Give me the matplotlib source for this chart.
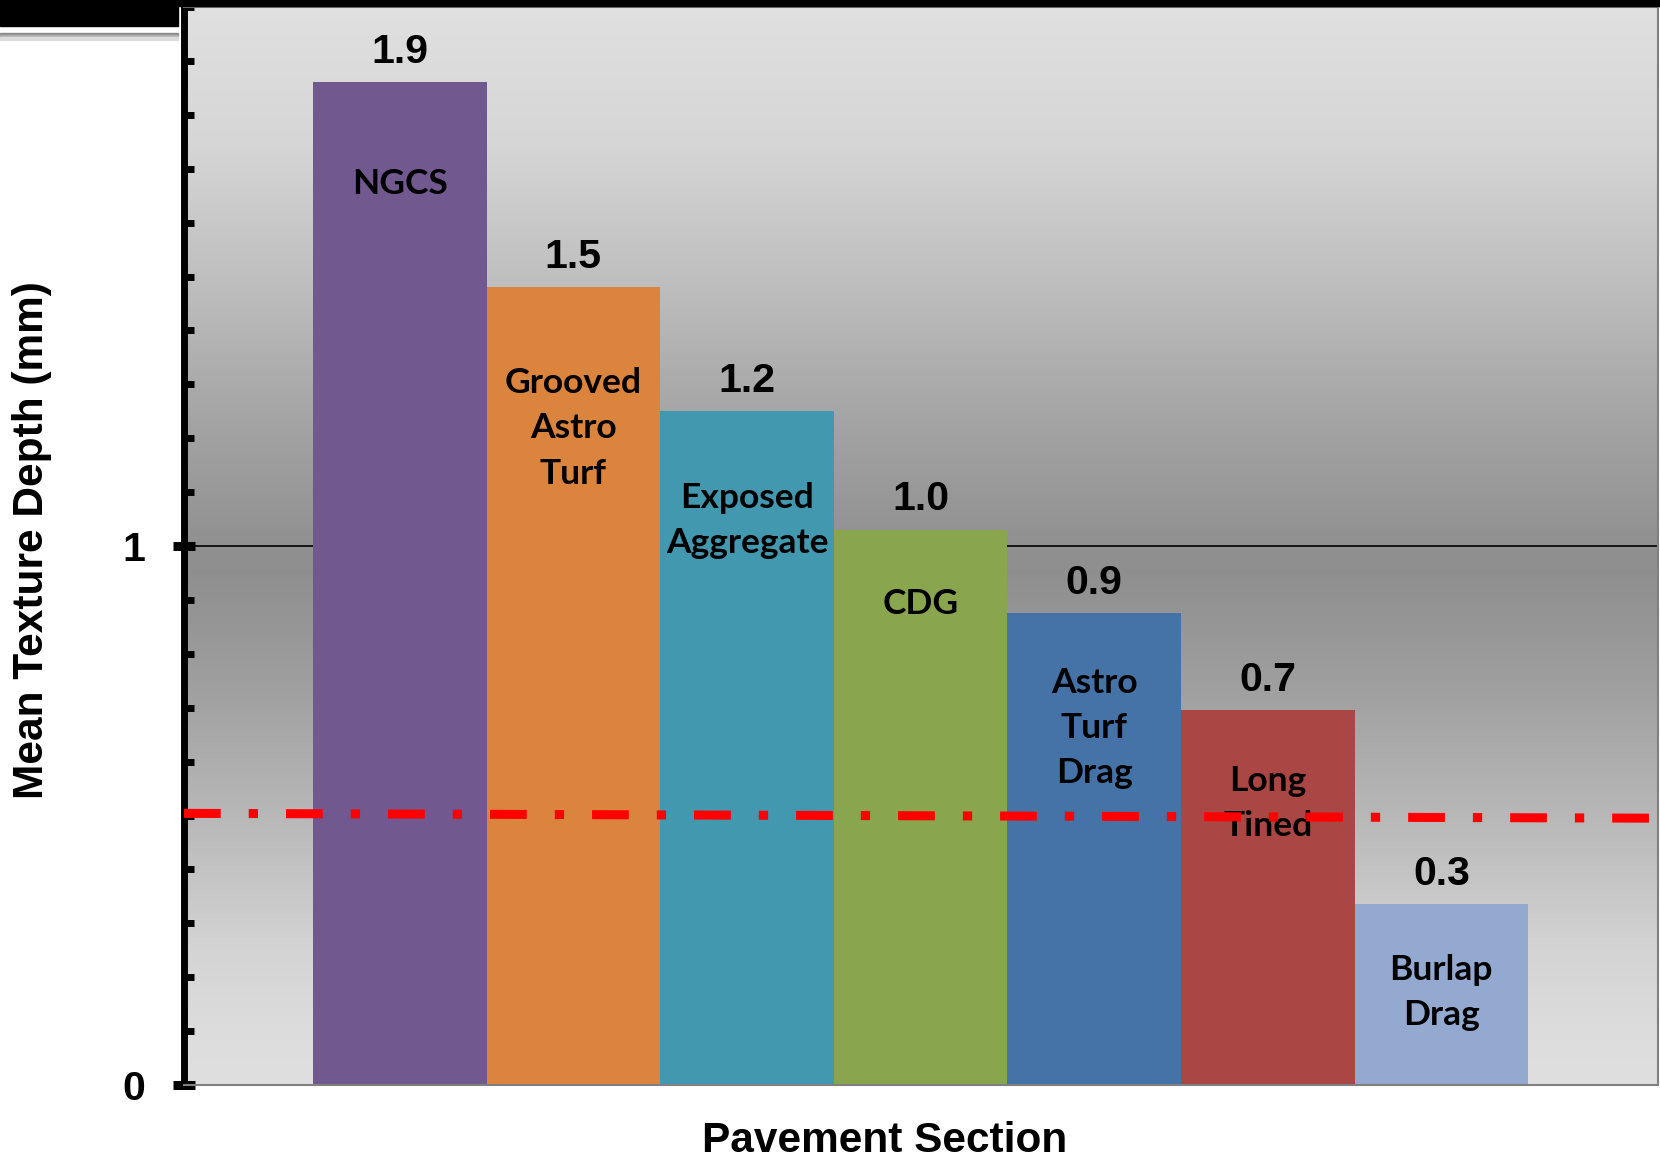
import numpy as np
import matplotlib
matplotlib.use("Agg")
import matplotlib.pyplot as plt
from matplotlib.ticker import FixedLocator, MultipleLocator
from matplotlib.patches import Rectangle

# ---------------- data ----------------
categories = ["NGCS", "Grooved\nAstro\nTurf", "Exposed\nAggregate", "CDG",
              "Astro\nTurf\nDrag", "Long\nTined", "Burlap\nDrag"]
values = [1.86, 1.48, 1.25, 1.03, 0.875, 0.695, 0.335]
value_labels = ["1.9", "1.5", "1.2", "1.0", "0.9", "0.7", "0.3"]
threshold = [0.504, 0.495]          # red dash-dot reference line (left end, right end)
y_ticks = [0, 1]
y_tick_labels = ["0", "1"]
x_label = "Pavement Section"
y_label = "Mean Texture Depth (mm)"

# ---------------- style / layout ----------------
colors = ["#71588F", "#DB843D", "#4198AF", "#89A54E", "#4572A7", "#AA4643", "#93A9CF"]
name_y = [1.671, 1.218, 1.047, 0.893, 0.662, 0.522, 0.171]   # in-bar name label centres
XLIM = (-1.243, 7.248)
YLIM = (0, 2)

plt.rcParams["font.family"] = ["Liberation Sans", "DejaVu Sans"]

W, H = 1660, 1164
fig = plt.figure(figsize=(W / 100, H / 100), dpi=100)
ax = fig.add_axes([184 / W, 1 - 1085 / H, (1658 - 184) / W, (1085 - 7) / H])

# background gradient (light - dark - light)
stops_y = [0, 0.1, 0.25, 0.5, 0.75, 0.95, 1.0, 1.25, 1.5, 1.75, 2.0]
stops_v = [0.875, 0.865, 0.83, 0.72, 0.62, 0.56, 0.565, 0.65, 0.75, 0.84, 0.878]
yy = np.linspace(0, 2, 600)
g = np.interp(yy, stops_y, stops_v)
img = np.dstack([g, g, g]).reshape(len(yy), 1, 3)
ax.imshow(img, extent=(XLIM[0], XLIM[1], YLIM[0], YLIM[1]), origin="lower",
          aspect="auto", zorder=0, interpolation="bilinear")

x = np.arange(len(values))
ax.bar(x, values, width=1.0, color=colors, linewidth=0, zorder=2)

for xi, v, lbl in zip(x, values, value_labels):
    ax.annotate(lbl, (xi, v), xytext=(0, 14), textcoords="offset points",
                ha="center", va="baseline", fontsize=29.5, fontweight="bold", zorder=3)

for xi, ny, name in zip(x, name_y, categories):
    ax.text(xi, ny, name, ha="center", va="center", multialignment="center",
            fontsize=25.5, fontweight="bold", family=["Lato", "DejaVu Sans"],
            linespacing=1.51, zorder=3)

ax.plot([XLIM[0], XLIM[1]], threshold, color="#FF0000", lw=6.5,
        dashes=(4.07, 3.1, 1.03, 3.1), dash_capstyle="butt", zorder=4)

ax.set_xlim(*XLIM)
ax.set_ylim(*YLIM)
ax.set_axisbelow(True)
ax.yaxis.grid(True, which="major", color="black", lw=1.2)
ax.set_xticks([])
ax.yaxis.set_major_locator(FixedLocator(y_ticks))
ax.set_yticklabels(y_tick_labels, fontsize=29.5, fontweight="bold")
ax.yaxis.set_minor_locator(MultipleLocator(0.1))
ax.tick_params(axis="y", which="major", direction="inout", length=16, width=6.5,
               color="black", pad=20)
ax.tick_params(axis="y", which="minor", direction="in", length=7, width=5, color="black")

ax.spines["left"].set_color("black")
ax.spines["left"].set_linewidth(5)
for s in ("top", "right", "bottom"):
    ax.spines[s].set_color("#808080")
    ax.spines[s].set_linewidth(1.5)

ax.set_xlabel(x_label, fontsize=30.5, fontweight="bold")
ax.xaxis.label.set_va("center")
ax.xaxis.set_label_coords(0.475, -0.052)
ax.set_ylabel(y_label, fontsize=30.5, fontweight="bold")
ax.yaxis.label.set_va("center")
ax.yaxis.set_label_coords(-0.1033, 0.5056)

# slide decorations at the top-left
def px_rect(x0, y0, w, h, color):
    fig.patches.append(Rectangle((x0 / W, 1 - (y0 + h) / H), w / W, h / H,
                                 transform=fig.transFigure, color=color, zorder=5))

px_rect(0, 0, W, 6, "black")
px_rect(0, 0, 178, 26, "black")
px_rect(0, 33, 178, 2, "#8c8c8c")
px_rect(0, 35, 178, 2, "#b0b0b0")
px_rect(0, 37, 178, 3, "#dcdcdc")

fig.savefig("out.png", dpi=100)
